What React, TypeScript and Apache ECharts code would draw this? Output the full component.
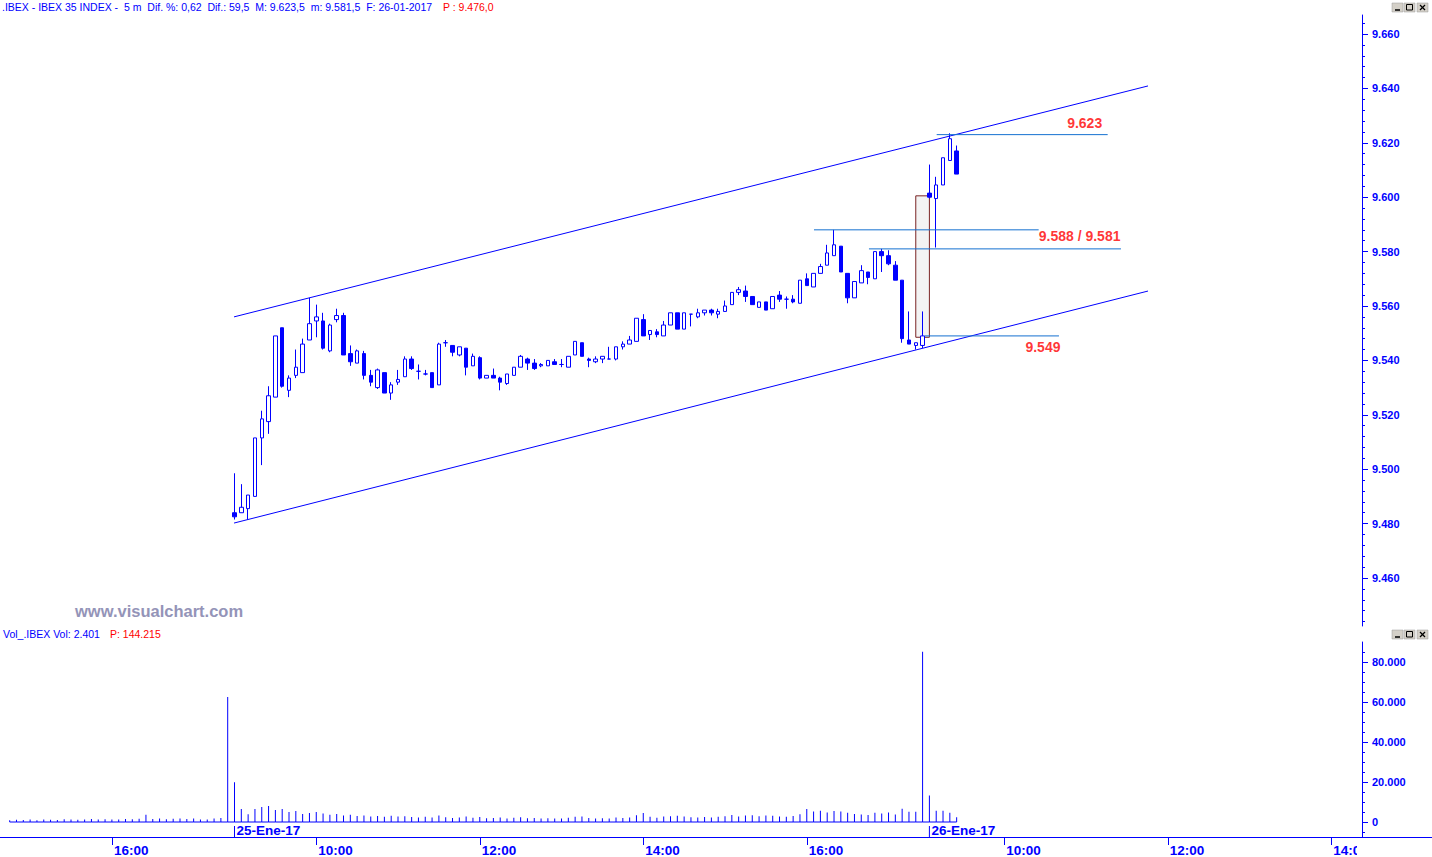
import React, { useEffect, useRef } from "react";
import * as echarts from "echarts";

const BLUE = "#0000ff";
const RED = "#ff0000";
const LEVEL_BLUE = "#1470d0";
const FONT = "'Liberation Sans', Arial, sans-serif";

// ---- time axis (5-minute bars) ----
const sessionDates = ["24-Ene-17", "25-Ene-17", "26-Ene-17"];
const sessionStarts = ["14:45", "09:00", "09:05"];
const sessionBars = [33, 102, 64];
const shownDateMarks = ["25-Ene-17", "26-Ene-17"];
const timeTickLabels = ["10:00", "12:00", "14:00", "16:00"];

// ---- axis ticks ----
const priceTicks = [9460, 9480, 9500, 9520, 9540, 9560, 9580, 9600, 9620, 9640, 9660];
const volumeTicks = [0, 20000, 40000, 60000, 80000];

// ---- volume per bar ----
const volume24 = [
  900, 1100, 1000, 1200, 900, 1300, 1100, 1000, 1400, 1200, 1100, 1300, 1500, 1200, 1400, 1300,
  1200, 1500, 1400, 1600, 3600, 1500, 1700, 1400, 1600, 1800, 1500, 1700, 1200, 1300, 1800, 2000,
  62500,
];
const volume25 = [
  19850, 6500, 3850, 6500, 7500, 8000, 6000, 6500, 5000, 5500, 4000, 4500, 5000, 4200, 3600, 4000,
  3200, 3600, 3000, 3300, 2800, 3000, 2600, 3100, 2700, 2900, 2500, 2300, 2600, 2200, 3200, 2400,
  2000, 2300, 2800, 2100, 2500, 1900, 2000, 2200, 1800, 2100, 2400, 1900, 2000, 1700, 1900, 1800,
  1700, 2100, 2600, 2700, 2000, 1800, 1900, 1700, 2200, 2000, 2300, 3400, 4500, 2600, 2100, 2700,
  2900, 3100, 2800, 2400, 2200, 2500, 2300, 2600, 2900, 3500, 2800, 3200, 3400, 2900, 3300, 3100,
  2700, 2600, 3000, 3900, 6500, 5200, 5600, 4800, 5500, 5300, 4600, 4000, 3800, 3500, 4600, 4200,
  4800, 3800, 6650, 5150, 5150, 85150,
];
const volume26 = [13300, 5650, 5650, 4650, 2401];

// ---- candles: [open, close, low, high] ----
const ohlc25 = [
  [9484, 9482.5, 9481.5, 9498.5], [9484, 9486, 9484, 9494.5], [9485.5, 9490.5, 9481.5, 9490.5],
  [9490, 9511.5, 9490, 9511.5], [9511.5, 9518.5, 9501.5, 9521.5], [9517.5, 9527, 9513, 9530.5],
  [9526.5, 9549, 9526.5, 9549], [9552, 9530.5, 9530, 9552], [9529, 9533.5, 9526.5, 9534.5],
  [9534.5, 9537.5, 9533.5, 9544], [9535.5, 9546, 9535.5, 9548], [9547.5, 9553.5, 9547.5, 9563],
  [9554.5, 9556, 9548.5, 9560.5], [9554.5, 9544.5, 9544, 9557.5], [9543.5, 9553, 9543, 9553.5],
  [9555, 9556.5, 9554, 9559], [9556.5, 9542, 9542, 9557.5], [9542.5, 9539.5, 9538, 9545.5],
  [9539, 9543.5, 9539, 9544], [9542.5, 9534.5, 9533, 9543.5], [9534.5, 9532, 9530.5, 9536.5],
  [9530, 9536.5, 9529.5, 9537], [9535.5, 9528, 9528, 9535.5], [9528, 9531, 9525.5, 9532],
  [9532, 9533, 9531, 9536.5], [9534, 9540.5, 9534, 9541.5], [9540.5, 9537, 9536.5, 9541.5],
  [9536, 9536, 9533, 9538.5], [9535, 9535, 9534.5, 9536.5], [9535.5, 9530, 9530, 9535.5],
  [9531, 9546, 9531, 9546.5], [9546.5, 9546.5, 9545, 9547.5], [9545.5, 9543, 9541.5, 9545.5],
  [9542, 9545, 9541.5, 9545], [9544.5, 9537.5, 9534.5, 9544.5], [9538, 9541.5, 9538, 9542.5],
  [9541, 9533.5, 9533, 9541.5], [9533.5, 9534.5, 9533.5, 9534.5], [9534.5, 9533.5, 9533.5, 9537],
  [9533.5, 9532, 9529, 9534], [9531.5, 9535, 9531, 9535], [9534.5, 9537.5, 9534.5, 9537.5],
  [9537.5, 9541.5, 9537.5, 9542], [9540.5, 9539, 9536.5, 9541], [9539, 9537, 9536.5, 9540.5],
  [9538, 9538.5, 9537.5, 9539], [9538, 9540, 9538, 9540], [9539.5, 9538.5, 9538.5, 9540.5],
  [9538.5, 9538.5, 9537.5, 9540.5], [9537.5, 9541.5, 9537.5, 9541.5], [9542, 9547, 9542, 9547],
  [9546.5, 9541.5, 9541.5, 9546.5], [9540.5, 9540, 9537.5, 9541], [9539.5, 9540.5, 9539, 9541.5],
  [9540.5, 9541.5, 9539, 9541.5], [9540.5, 9540.5, 9540.5, 9545], [9540.5, 9545, 9540, 9545],
  [9545, 9546, 9544, 9547], [9546, 9547.5, 9546, 9549], [9547, 9555.5, 9547, 9555.5],
  [9555, 9549, 9549, 9557], [9549.5, 9551, 9547.5, 9551], [9550.5, 9549.5, 9548.5, 9551.5],
  [9549, 9553, 9549, 9554.5], [9553, 9557.5, 9553, 9557.5], [9557.5, 9551.5, 9551.5, 9557.5],
  [9551.5, 9557.5, 9551.5, 9557.5], [9557, 9557, 9552.5, 9557], [9556, 9557.5, 9555.5, 9559],
  [9557.5, 9558.5, 9556.5, 9558.5], [9558.5, 9557.5, 9556.5, 9559], [9557, 9558, 9555.5, 9559],
  [9558, 9560, 9558, 9562], [9560.5, 9565, 9560.5, 9565], [9565, 9566, 9564, 9567],
  [9565.5, 9563.5, 9561.5, 9567.5], [9563.5, 9560.5, 9560.5, 9563.5], [9559.5, 9561.5, 9559.5, 9561.5],
  [9561.5, 9558.5, 9558.5, 9561.5], [9559, 9563.5, 9559, 9563.5], [9564, 9562.5, 9561.5, 9565.5],
  [9562.5, 9562.5, 9559, 9563.5], [9562.5, 9561.5, 9561, 9564], [9561, 9569.5, 9561, 9569.5],
  [9570, 9567.5, 9567.5, 9572], [9567, 9572, 9567, 9572], [9572, 9574.5, 9572, 9575.5],
  [9575, 9579.5, 9575, 9582.5], [9578.5, 9582.5, 9578.5, 9588], [9582, 9572.5, 9572.5, 9582],
  [9572, 9563, 9561, 9572], [9563, 9569, 9563, 9569], [9568.5, 9573, 9568.5, 9575],
  [9572.5, 9570.5, 9568, 9572.5], [9570, 9580, 9570, 9580], [9580, 9578.5, 9572.5, 9581],
  [9578.5, 9575.5, 9575, 9580.5], [9575, 9569.5, 9569.5, 9576.5], [9569.5, 9548, 9546.5, 9569.5],
  [9547.5, 9546, 9546, 9558], [9545.5, 9546.5, 9544, 9546.5], [9545.5, 9549, 9544.5, 9558],
];
const ohlc26 = [
  [9601.5, 9600, 9599.5, 9612], [9599.5, 9604.5, 9581.5, 9607.5], [9604.5, 9614.5, 9604.5, 9614.5],
  [9613.5, 9621.5, 9613.5, 9623.5], [9617, 9608.5, 9608.5, 9619],
];

// ---- drawn annotations (bar index, price) ----
const channelUpper = [[32.93, 9556.0], [167.09, 9640.9]];
const channelLower = [[32.93, 9480.2], [167.09, 9565.5]];
const levelValues = [9623, 9588, 9581, 9549];
const levelFrom = [136.07, 118.06, 126.13, 134.3];
const levelTo = [161.17, 151.04, 163.12, 154.02];
const levelLabels = ["9.623", "9.588 / 9.581", "9.549"];
const gapBox = [133, 135, 9548.5, 9600.5];

const headerText = ".IBEX - IBEX 35 INDEX -  5 m  Dif. %: 0,62  Dif.: 59,5  M: 9.623,5  m: 9.581,5  F: 26-01-2017";
const headerPrev = "P : 9.476,0";
const volHeader = "Vol_.IBEX Vol: 2.401";
const volHeaderPrev = "P: 144.215";
const watermark = "www.visualchart.com";

// ---- derived ----
const cats: string[] = [];
sessionDates.forEach((d, s) => {
  let [h, m] = sessionStarts[s].split(":").map(Number);
  for (let k = 0; k < sessionBars[s]; k++) {
    cats.push(`${d} ${String(h).padStart(2, "0")}:${String(m).padStart(2, "0")}`);
    m += 5;
    if (m >= 60) { m -= 60; h += 1; }
  }
});
const isTimeTick = (i: number) => timeTickLabels.includes(cats[i].slice(-5));
const volumes = [...volume24, ...volume25, ...volume26];
const candleStart = sessionBars[0];
const candleData = [...ohlc25, ...ohlc26].map((r, k) => [candleStart + k, ...r]);
const dateMarkData = shownDateMarks.map((d) => [cats.findIndex((c) => c.startsWith(d)), 0]);

const fmt = (v: number) => String(v).replace(/\B(?=(\d{3})+(?!\d))/g, ".");

const PRICE_MAX = 9666.985;
const PRICE_MIN = 9442.353;
const VOL_MAX = 90000;
const VOL_MIN = -7500;
const priceMinor: number[] = [];
for (let v = 9444; v <= 9664; v += 4) priceMinor.push(v);
const volMinor: number[] = [];
for (let v = -5000; v <= 85000; v += 5000) volMinor.push(v);

function buttons(y: number) {
  const els: any[] = [];
  const xs = [1392, 1404, 1417];
  xs.forEach((x, k) => {
    els.push({ type: "rect", shape: { x, y, width: 11, height: 9 }, style: { fill: "#d4d0c8", stroke: "#9a9a9a", lineWidth: 0.5 }, z: 50 });
    if (k === 0) els.push({ type: "line", shape: { x1: x + 3, y1: y + 7, x2: x + 8, y2: y + 7 }, style: { stroke: "#000", lineWidth: 1.5 }, z: 51 });
    if (k === 1) els.push({ type: "rect", shape: { x: x + 2.5, y: y + 1.5, width: 6, height: 5.5 }, style: { fill: "none", stroke: "#000", lineWidth: 1 }, z: 51 });
    if (k === 2) {
      els.push({ type: "line", shape: { x1: x + 3, y1: y + 2, x2: x + 8, y2: y + 7 }, style: { stroke: "#000", lineWidth: 1.3 }, z: 51 });
      els.push({ type: "line", shape: { x1: x + 8, y1: y + 2, x2: x + 3, y2: y + 7 }, style: { stroke: "#000", lineWidth: 1.3 }, z: 51 });
    }
  });
  return els;
}

export default function App() {
  const ref = useRef<HTMLDivElement>(null);
  useEffect(() => {
    if (!ref.current) return;
    const chart = echarts.init(ref.current, undefined, { renderer: "svg" });
    const levelLabelItems = [
      { value: [levelTo[0], levelValues[0]], label: { formatter: levelLabels[0], position: [-5, -11] } },
      { value: [levelTo[2], levelValues[2]], label: { formatter: levelLabels[1], position: [0, -12] } },
      { value: [levelTo[3], levelValues[3]], label: { formatter: levelLabels[2], position: [2, 12] } },
    ];
    const option: any = {
      animation: false,
      backgroundColor: "#ffffff",
      grid: [
        { left: 6.28, right: 70, top: 15, height: 611 },
        { left: 6.28, right: 70, top: 642, height: 195 },
      ],
      xAxis: [
        { type: "category", gridIndex: 0, data: cats, show: false, axisLine: { onZero: false } },
        { type: "value", gridIndex: 0, min: -0.5, max: cats.length - 0.5, show: false, axisLine: { onZero: false } },
        {
          type: "category", gridIndex: 1, data: cats, position: "bottom",
          axisLine: { show: false, onZero: false },
          axisTick: { show: true, inside: false, alignWithLabel: true, interval: (i: number) => isTimeTick(i), length: 8, lineStyle: { color: BLUE } },
          axisLabel: {
            show: true, interval: (i: number) => isTimeTick(i), formatter: (v: string) => v.slice(-5),
            align: "left", margin: 6, color: BLUE, fontFamily: FONT, fontWeight: "bold", fontSize: 13.5,
            padding: [0, 0, 0, 2], hideOverlap: false,
          },
          splitLine: { show: false },
        },
      ],
      yAxis: [
        {
          type: "value", gridIndex: 0, position: "right", min: PRICE_MIN, max: PRICE_MAX,
          axisLine: { show: true, onZero: false, lineStyle: { color: BLUE } },
          axisTick: { show: true, customValues: priceTicks, length: 6, lineStyle: { color: BLUE } },
          axisLabel: { customValues: priceTicks, formatter: fmt, color: BLUE, fontWeight: "bold", fontSize: 11, fontFamily: FONT, margin: 10 },
          splitLine: { show: false },
        },
        {
          type: "value", gridIndex: 0, position: "right", min: PRICE_MIN, max: PRICE_MAX,
          axisLine: { show: false, onZero: false },
          axisTick: { show: true, customValues: priceMinor, length: 3, lineStyle: { color: BLUE } },
          axisLabel: { show: false }, splitLine: { show: false },
        },
        {
          type: "value", gridIndex: 1, position: "right", min: VOL_MIN, max: VOL_MAX,
          axisLine: { show: true, onZero: false, lineStyle: { color: BLUE } },
          axisTick: { show: true, customValues: volumeTicks, length: 6, lineStyle: { color: BLUE } },
          axisLabel: { customValues: volumeTicks, formatter: fmt, color: BLUE, fontWeight: "bold", fontSize: 11, fontFamily: FONT, margin: 10 },
          splitLine: { show: false },
        },
        {
          type: "value", gridIndex: 1, position: "right", min: VOL_MIN, max: VOL_MAX,
          axisLine: { show: false, onZero: false },
          axisTick: { show: true, customValues: volMinor, length: 3, lineStyle: { color: BLUE } },
          axisLabel: { show: false }, splitLine: { show: false },
        },
      ],
      series: [
        {
          type: "custom", xAxisIndex: 1, yAxisIndex: 0, z: 1,
          data: [gapBox], encode: { x: [0, 1], y: [2, 3] },
          renderItem: (params: any, api: any) => {
            const p1 = api.coord([api.value(0), api.value(3)]);
            const p2 = api.coord([api.value(1), api.value(2)]);
            return {
              type: "rect",
              shape: { x: p1[0], y: p1[1], width: p2[0] - p1[0], height: p2[1] - p1[1] },
              style: { fill: "#f3f3f3", stroke: "#7a2424", lineWidth: 1 },
            };
          },
        },
        {
          type: "candlestick", xAxisIndex: 0, yAxisIndex: 0, z: 3,
          data: candleData, encode: { x: 0, y: [1, 2, 3, 4] }, barWidth: 4,
          itemStyle: { color: "#ffffff", color0: BLUE, borderColor: BLUE, borderColor0: BLUE, borderColorDoji: BLUE, borderWidth: 1 },
        },
        ...[channelUpper, channelLower].map((d) => ({
          type: "line", xAxisIndex: 1, yAxisIndex: 0, z: 4, data: d, symbol: "none",
          lineStyle: { color: BLUE, width: 1 },
        })),
        ...levelValues.map((v, k) => ({
          type: "line", xAxisIndex: 1, yAxisIndex: 0, z: 4, symbol: "none",
          data: [[levelFrom[k], v], [levelTo[k], v]],
          lineStyle: { color: LEVEL_BLUE, width: 1 },
        })),
        {
          type: "scatter", xAxisIndex: 1, yAxisIndex: 0, z: 6, symbolSize: 1,
          itemStyle: { color: "rgba(0,0,0,0)" },
          label: { show: true, align: "right", verticalAlign: "middle", color: RED, fontFamily: FONT, fontWeight: "bold", fontSize: 14 },
          data: levelLabelItems,
        },
        {
          type: "bar", xAxisIndex: 2, yAxisIndex: 2, z: 3, data: volumes, barWidth: 1,
          itemStyle: { color: BLUE },
        },
        {
          type: "line", xAxisIndex: 2, yAxisIndex: 2, z: 4, data: volumes.map(() => 0), symbol: "none",
          lineStyle: { color: BLUE, width: 1 },
        },
        {
          type: "custom", xAxisIndex: 2, yAxisIndex: 2, z: 5, data: dateMarkData, encode: { x: 0, y: 1 },
          renderItem: (params: any, api: any) => {
            const i = api.value(0);
            const base = api.coord([i, 0]);
            const bottom = api.coord([i, VOL_MIN]);
            const ty = api.coord([i, -4000]);
            return {
              type: "group",
              children: [
                { type: "line", shape: { x1: base[0], y1: base[1] + 4, x2: base[0], y2: bottom[1] }, style: { stroke: BLUE, lineWidth: 1 } },
                {
                  type: "text", x: base[0] + 2, y: ty[1],
                  style: { text: shownDateMarks[params.dataIndex], fill: BLUE, font: `bold 13.5px ${FONT}`, align: "left", verticalAlign: "middle" },
                },
              ],
            };
          },
        },
      ],
      graphic: [
        { type: "text", x: 2, y: 7, z: 50, style: { text: headerText, fill: BLUE, font: `10.5px ${FONT}`, align: "left", verticalAlign: "middle" } },
        { type: "text", x: 443, y: 7, z: 50, style: { text: headerPrev, fill: RED, font: `10.5px ${FONT}`, align: "left", verticalAlign: "middle" } },
        { type: "text", x: 3, y: 634, z: 50, style: { text: volHeader, fill: BLUE, font: `10.5px ${FONT}`, align: "left", verticalAlign: "middle" } },
        { type: "text", x: 110, y: 634, z: 50, style: { text: volHeaderPrev, fill: RED, font: `10.5px ${FONT}`, align: "left", verticalAlign: "middle" } },
        { type: "text", x: 75, y: 611, z: 50, style: { text: watermark, fill: "#9494b8", font: `bold 16.5px ${FONT}`, align: "left", verticalAlign: "middle" } },
        { type: "line", shape: { x1: 0, y1: 837.5, x2: 1432, y2: 837.5 }, style: { stroke: BLUE, lineWidth: 1 }, z: 50 },
        { type: "rect", shape: { x: 1357, y: 839, width: 75, height: 18 }, style: { fill: "#ffffff" }, z: 49 },
        ...buttons(3),
        ...buttons(630),
      ],
    };
    chart.setOption(option);
    return () => chart.dispose();
  }, []);
  return <div ref={ref} style={{ position: "absolute", left: 0, top: 0, width: 1432, height: 857 }} />;
}
